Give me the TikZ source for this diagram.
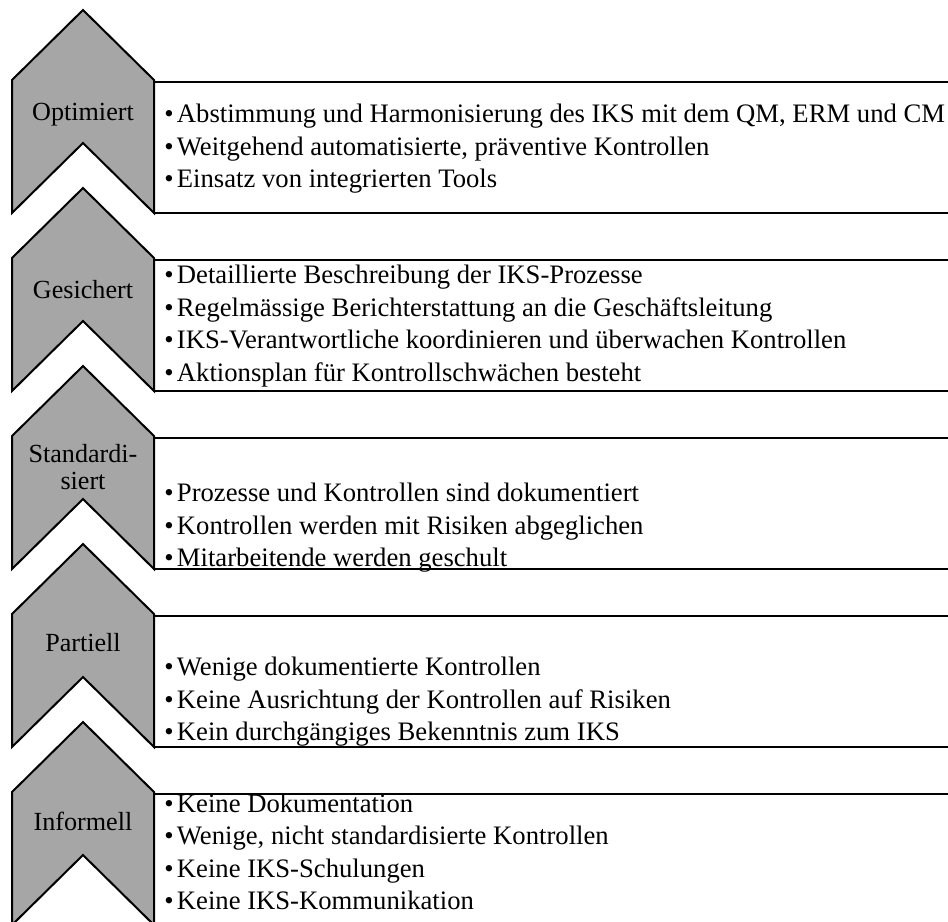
\documentclass[tikz,border=0pt]{standalone}
\usepackage{fontspec}
\setmainfont{Liberation Serif}
\usetikzlibrary{positioning}
\usepackage{xcolor}

\definecolor{stufengrau}{HTML}{A6A6A6}
\newcommand{\pkt}{\textbullet\hspace{2.5pt}}

\tikzset{
  stufe/.style={fill=stufengrau, draw=black, line width=1.5pt, line join=miter},
  kasten/.style={fill=white, draw=black, line width=2.2pt},
  stufenname/.style={font=\fontsize{19.6}{20.5}\selectfont, align=center, inner sep=0pt},
  punkte/.style={font=\fontsize{20}{24.3}\selectfont, align=left, anchor=west, inner sep=0pt},
}

\begin{document}
\begin{tikzpicture}[x=0.75pt, y=-0.75pt]
  \useasboundingbox (0,0) rectangle (948,921);
  \clip (0,0) rectangle (948,921);

  % Kasten und Pfeil je Stufe
  \foreach \i in {0,...,4} {
    \pgfmathsetmacro{\top}{10+178*\i}
    \draw[kasten] (154,\top+72) rectangle (980,\top+203);
    \draw[stufe] (12,\top+70) -- (83,\top) -- (154,\top+70) -- (154,\top+203)
      -- (83,\top+133) -- (12,\top+203) -- cycle;
  }

  % Stufennamen
  \node[stufenname] (optimiert) at (83,115) {Optimiert};
  \node[stufenname] (gesichert) at (83,290) {Gesichert};
  \node[stufenname] (standardisiert) at (83,467) {Standardi-\\siert};
  \node[stufenname] (partiell) at (83,643) {Partiell};
  \node[stufenname] (informell) at (83,821) {Informell};

  % Merkmale
  \node[punkte] (optimiert-text) at (164,149) {\pkt Abstimmung und Harmonisierung des IKS mit dem QM, ERM und CM\\
    \pkt Weitgehend automatisierte, präventive Kontrollen\\
    \pkt Einsatz von integrierten Tools};
  \node[punkte] (gesichert-text) at (164,326) {\pkt Detaillierte Beschreibung der IKS-Prozesse\\
    \pkt Regelmässige Berichterstattung an die Geschäftsleitung\\
    \pkt IKS-Verantwortliche koordinieren und überwachen Kontrollen\\
    \pkt Aktionsplan für Kontrollschwächen besteht};
  \node[punkte] (standardisiert-text) at (164,528) {\pkt Prozesse und Kontrollen sind dokumentiert\\
    \pkt Kontrollen werden mit Risiken abgeglichen\\
    \pkt Mitarbeitende werden geschult};
  \node[punkte] (partiell-text) at (164,702) {\pkt Wenige dokumentierte Kontrollen\\
    \pkt Keine Ausrichtung der Kontrollen auf Risiken\\
    \pkt Kein durchgängiges Bekenntnis zum IKS};
  \node[punkte] (informell-text) at (164,852) {\pkt Keine Dokumentation\\
    \pkt Wenige, nicht standardisierte Kontrollen\\
    \pkt Keine IKS-Schulungen\\
    \pkt Keine IKS-Kommunikation};
\end{tikzpicture}
\end{document}
